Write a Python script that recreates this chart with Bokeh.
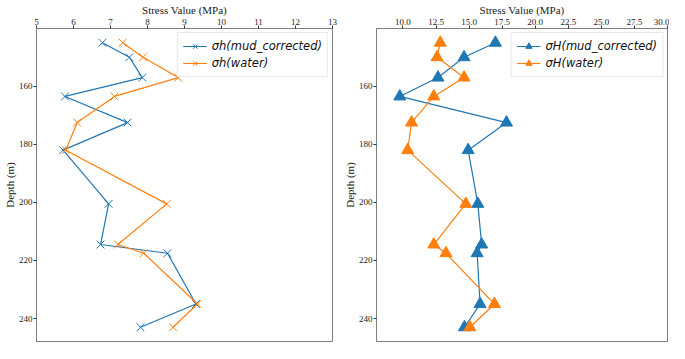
from bokeh.plotting import figure
from bokeh.layouts import row
from bokeh.models import Range1d, FixedTicker, NumeralTickFormatter, Legend, LegendItem
from bokeh.embed import file_html
from bokeh.resources import INLINE

# ---- data ----
depth = [145, 150, 157, 163.5, 172.5, 182, 200.5, 214.5, 217.5, 235, 243]
sh_mud = [6.78, 7.51, 7.86, 5.77, 7.46, 5.72, 6.95, 6.73, 8.54, 9.31, 7.81]
sh_water = [7.33, 7.88, 8.83, 7.11, 6.10, 5.79, 8.52, 7.20, 7.90, 9.35, 8.69]
sH_mud = [16.99, 14.62, 12.65, 9.76, 17.83, 14.93, 15.66, 15.95, 15.61, 15.83, 14.65]
sH_water = [12.82, 12.58, 14.62, 12.33, 10.65, 10.36, 14.75, 12.33, 13.25, 16.92, 15.06]

left_xticks = [5, 6, 7, 8, 9, 10, 11, 12, 13]
right_xticks = [10.0, 12.5, 15.0, 17.5, 20.0, 22.5, 25.0, 27.5, 30.0]
depth_ticks = [160, 180, 200, 220, 240]
left_xlim = (5, 13)
right_xlim = (8, 30)

labels_left = ["σh(mud_corrected)", "σh(water)"]
labels_right = ["σH(mud_corrected)", "σH(water)"]

BLUE = "#1f77b4"
ORANGE = "#ff7f0e"
SERIF = "Liberation Serif"

span = max(depth) - min(depth)
y_lo = min(depth) - 0.05 * span
y_hi = max(depth) + 0.05 * span


def make_panel(width, xlim, xticks, fmt, series, labels, marker, msize, border_right):
    p = figure(width=width, height=343, output_backend="svg", toolbar_location=None,
               x_axis_location="above",
               x_range=Range1d(*xlim), y_range=Range1d(y_hi, y_lo),
               min_border_left=0, min_border_right=border_right,
               min_border_top=0, min_border_bottom=2)
    p.xgrid.visible = False
    p.ygrid.visible = False
    p.outline_line_color = "#7f7f7f"
    p.outline_line_width = 1
    p.background_fill_color = "white"
    p.border_fill_color = "white"

    xa = p.xaxis[0]
    xa.ticker = FixedTicker(ticks=xticks)
    if fmt:
        xa.formatter = NumeralTickFormatter(format=fmt)
    xa.axis_label = "Stress Value (MPa)"
    ya = p.yaxis[0]
    ya.ticker = FixedTicker(ticks=depth_ticks)
    ya.axis_label = "Depth (m)"
    for ax in (xa, ya):
        ax.axis_line_color = "#7f7f7f"
        ax.major_tick_line_color = "#333333"
        ax.major_tick_out = 3
        ax.major_tick_in = 0
        ax.minor_tick_line_color = None
        ax.major_label_text_font = SERIF
        ax.major_label_text_font_size = "9px"
        ax.major_label_text_color = "#222222"
        ax.major_label_standoff = 1
        ax.axis_label_text_font = SERIF
        ax.axis_label_text_font_size = "11px"
        ax.axis_label_text_font_style = "normal"
        ax.axis_label_text_color = "#222222"
        ax.axis_label_standoff = 0

    items = []
    for (xs, color), label in zip(series, labels):
        lr = p.line(xs, depth, line_color=color, line_width=1.2)
        sr = p.scatter(xs, depth, marker=marker, size=msize,
                       line_color=color, fill_color=color, line_width=1)
        items.append(LegendItem(label=label, renderers=[lr, sr]))
    leg = Legend(items=items, location="top_right")
    leg.label_text_font = "DejaVu Sans"
    leg.label_text_font_style = "italic"
    leg.label_text_font_size = "11.5px"
    leg.label_text_color = "#111111"
    leg.glyph_width = 24
    leg.glyph_height = 16
    leg.label_height = 16
    leg.spacing = 1
    leg.padding = 5
    leg.margin = 4
    leg.border_line_color = "#d0d0d0"
    leg.border_line_width = 1
    leg.background_fill_alpha = 0.9
    p.add_layout(leg)
    return p


left = make_panel(340, left_xlim, left_xticks, None,
                  [(sh_mud, BLUE), (sh_water, ORANGE)], labels_left, "x", 11, 8)
right = make_panel(329, right_xlim, right_xticks, "0.0",
                   [(sH_mud, BLUE), (sH_water, ORANGE)], labels_right, "triangle", 12, 2)

layout = row(left, right)
open("out.html", "w").write(file_html(layout, INLINE))
